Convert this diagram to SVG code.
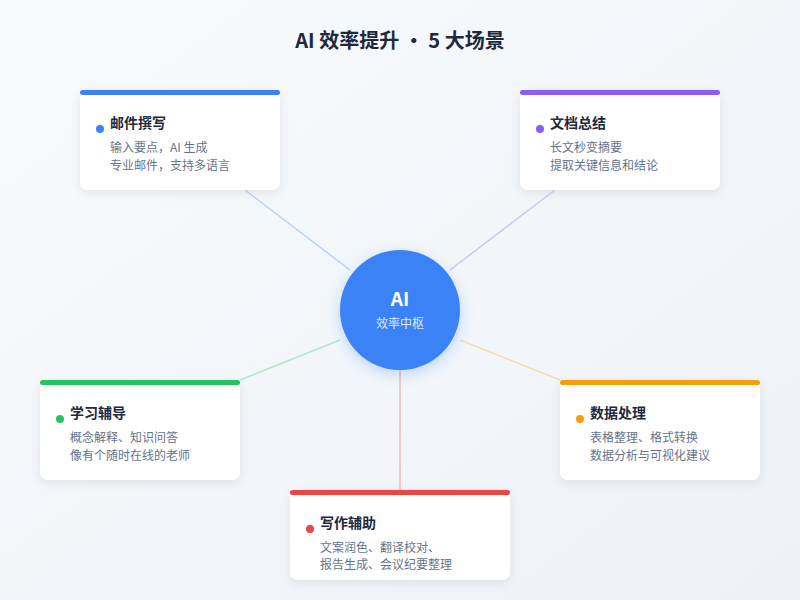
<svg xmlns="http://www.w3.org/2000/svg" width="800" height="600" viewBox="0 0 800 600">
<defs>
<linearGradient id="bg" x1="0" y1="0" x2="1" y2="1"><stop offset="0" stop-color="#f8fafc"/><stop offset="1" stop-color="#eef2f7"/></linearGradient>
<filter id="sh" x="-20%" y="-20%" width="140%" height="150%"><feDropShadow dx="0" dy="3" stdDeviation="5" flood-color="#0f172a" flood-opacity="0.08"/></filter>
<filter id="csh" x="-30%" y="-30%" width="160%" height="160%"><feDropShadow dx="0" dy="4" stdDeviation="7" flood-color="#3b82f6" flood-opacity="0.3"/></filter>
</defs>
<style>
text{font-family:"Noto Sans CJK SC","Noto Sans",sans-serif}
.card{fill:#fff;filter:url(#sh)}
.t{font-size:14px;font-weight:700;fill:#1e293b}
.d{font-size:12px;fill:#64748b}
.c{stroke-width:1.5;fill:none}
</style>
<rect width="800" height="600" fill="url(#bg)"/>
<text x="400" y="48" text-anchor="middle" font-size="20" font-weight="700" fill="#1e293b">AI 效率提升 · 5 大场景</text>
<g id="connectors">
<line class="c" x1="245" y1="190" x2="350" y2="270" stroke="#bcd3f7"/>
<line class="c" x1="555" y1="190" x2="450" y2="270" stroke="#d5c4f5"/>
<line class="c" x1="240" y1="380" x2="340" y2="340" stroke="#b5e8c8"/>
<line class="c" x1="560" y1="380" x2="460" y2="340" stroke="#f6ddb0"/>
<line class="c" x1="400" y1="370" x2="400" y2="490" stroke="#f3b9b9"/>
</g>
<g id="center">
<circle cx="400" cy="310" r="60" fill="#3b82f6" filter="url(#csh)"/>
<text x="400" y="306" text-anchor="middle" font-size="19" font-weight="700" fill="#fff">AI</text>
<text x="400" y="328" text-anchor="middle" font-size="12" fill="#dbeafe">效率中枢</text>
</g>
<g id="email">
<rect class="card" x="80" y="90" width="200" height="100" rx="8"/>
<rect x="80" y="90" width="200" height="5" rx="2.5" fill="#3b82f6"/>
<circle cx="100" cy="129" r="4" fill="#3b82f6"/>
<text class="t" x="110" y="128">邮件撰写</text>
<text class="d" x="110" y="152">输入要点，AI 生成</text>
<text class="d" x="110" y="170">专业邮件，支持多语言</text>
</g>
<g id="summary">
<rect class="card" x="520" y="90" width="200" height="100" rx="8"/>
<rect x="520" y="90" width="200" height="5" rx="2.5" fill="#8b5cf6"/>
<circle cx="540" cy="129" r="4" fill="#8b5cf6"/>
<text class="t" x="550" y="128">文档总结</text>
<text class="d" x="550" y="152">长文秒变摘要</text>
<text class="d" x="550" y="170">提取关键信息和结论</text>
</g>
<g id="study">
<rect class="card" x="40" y="380" width="200" height="100" rx="8"/>
<rect x="40" y="380" width="200" height="5" rx="2.5" fill="#22c55e"/>
<circle cx="60" cy="419" r="4" fill="#22c55e"/>
<text class="t" x="70" y="418">学习辅导</text>
<text class="d" x="70" y="442">概念解释、知识问答</text>
<text class="d" x="70" y="460">像有个随时在线的老师</text>
</g>
<g id="data">
<rect class="card" x="560" y="380" width="200" height="100" rx="8"/>
<rect x="560" y="380" width="200" height="5" rx="2.5" fill="#f59e0b"/>
<circle cx="580" cy="419" r="4" fill="#f59e0b"/>
<text class="t" x="590" y="418">数据处理</text>
<text class="d" x="590" y="442">表格整理、格式转换</text>
<text class="d" x="590" y="460">数据分析与可视化建议</text>
</g>
<g id="writing">
<rect class="card" x="290" y="490" width="220" height="90" rx="8"/>
<rect x="290" y="490" width="220" height="5" rx="2.5" fill="#ef4444"/>
<circle cx="310" cy="529" r="4" fill="#ef4444"/>
<text class="t" x="320" y="528">写作辅助</text>
<text class="d" x="320" y="552">文案润色、翻译校对、</text>
<text class="d" x="320" y="569">报告生成、会议纪要整理</text>
</g>
</svg>
